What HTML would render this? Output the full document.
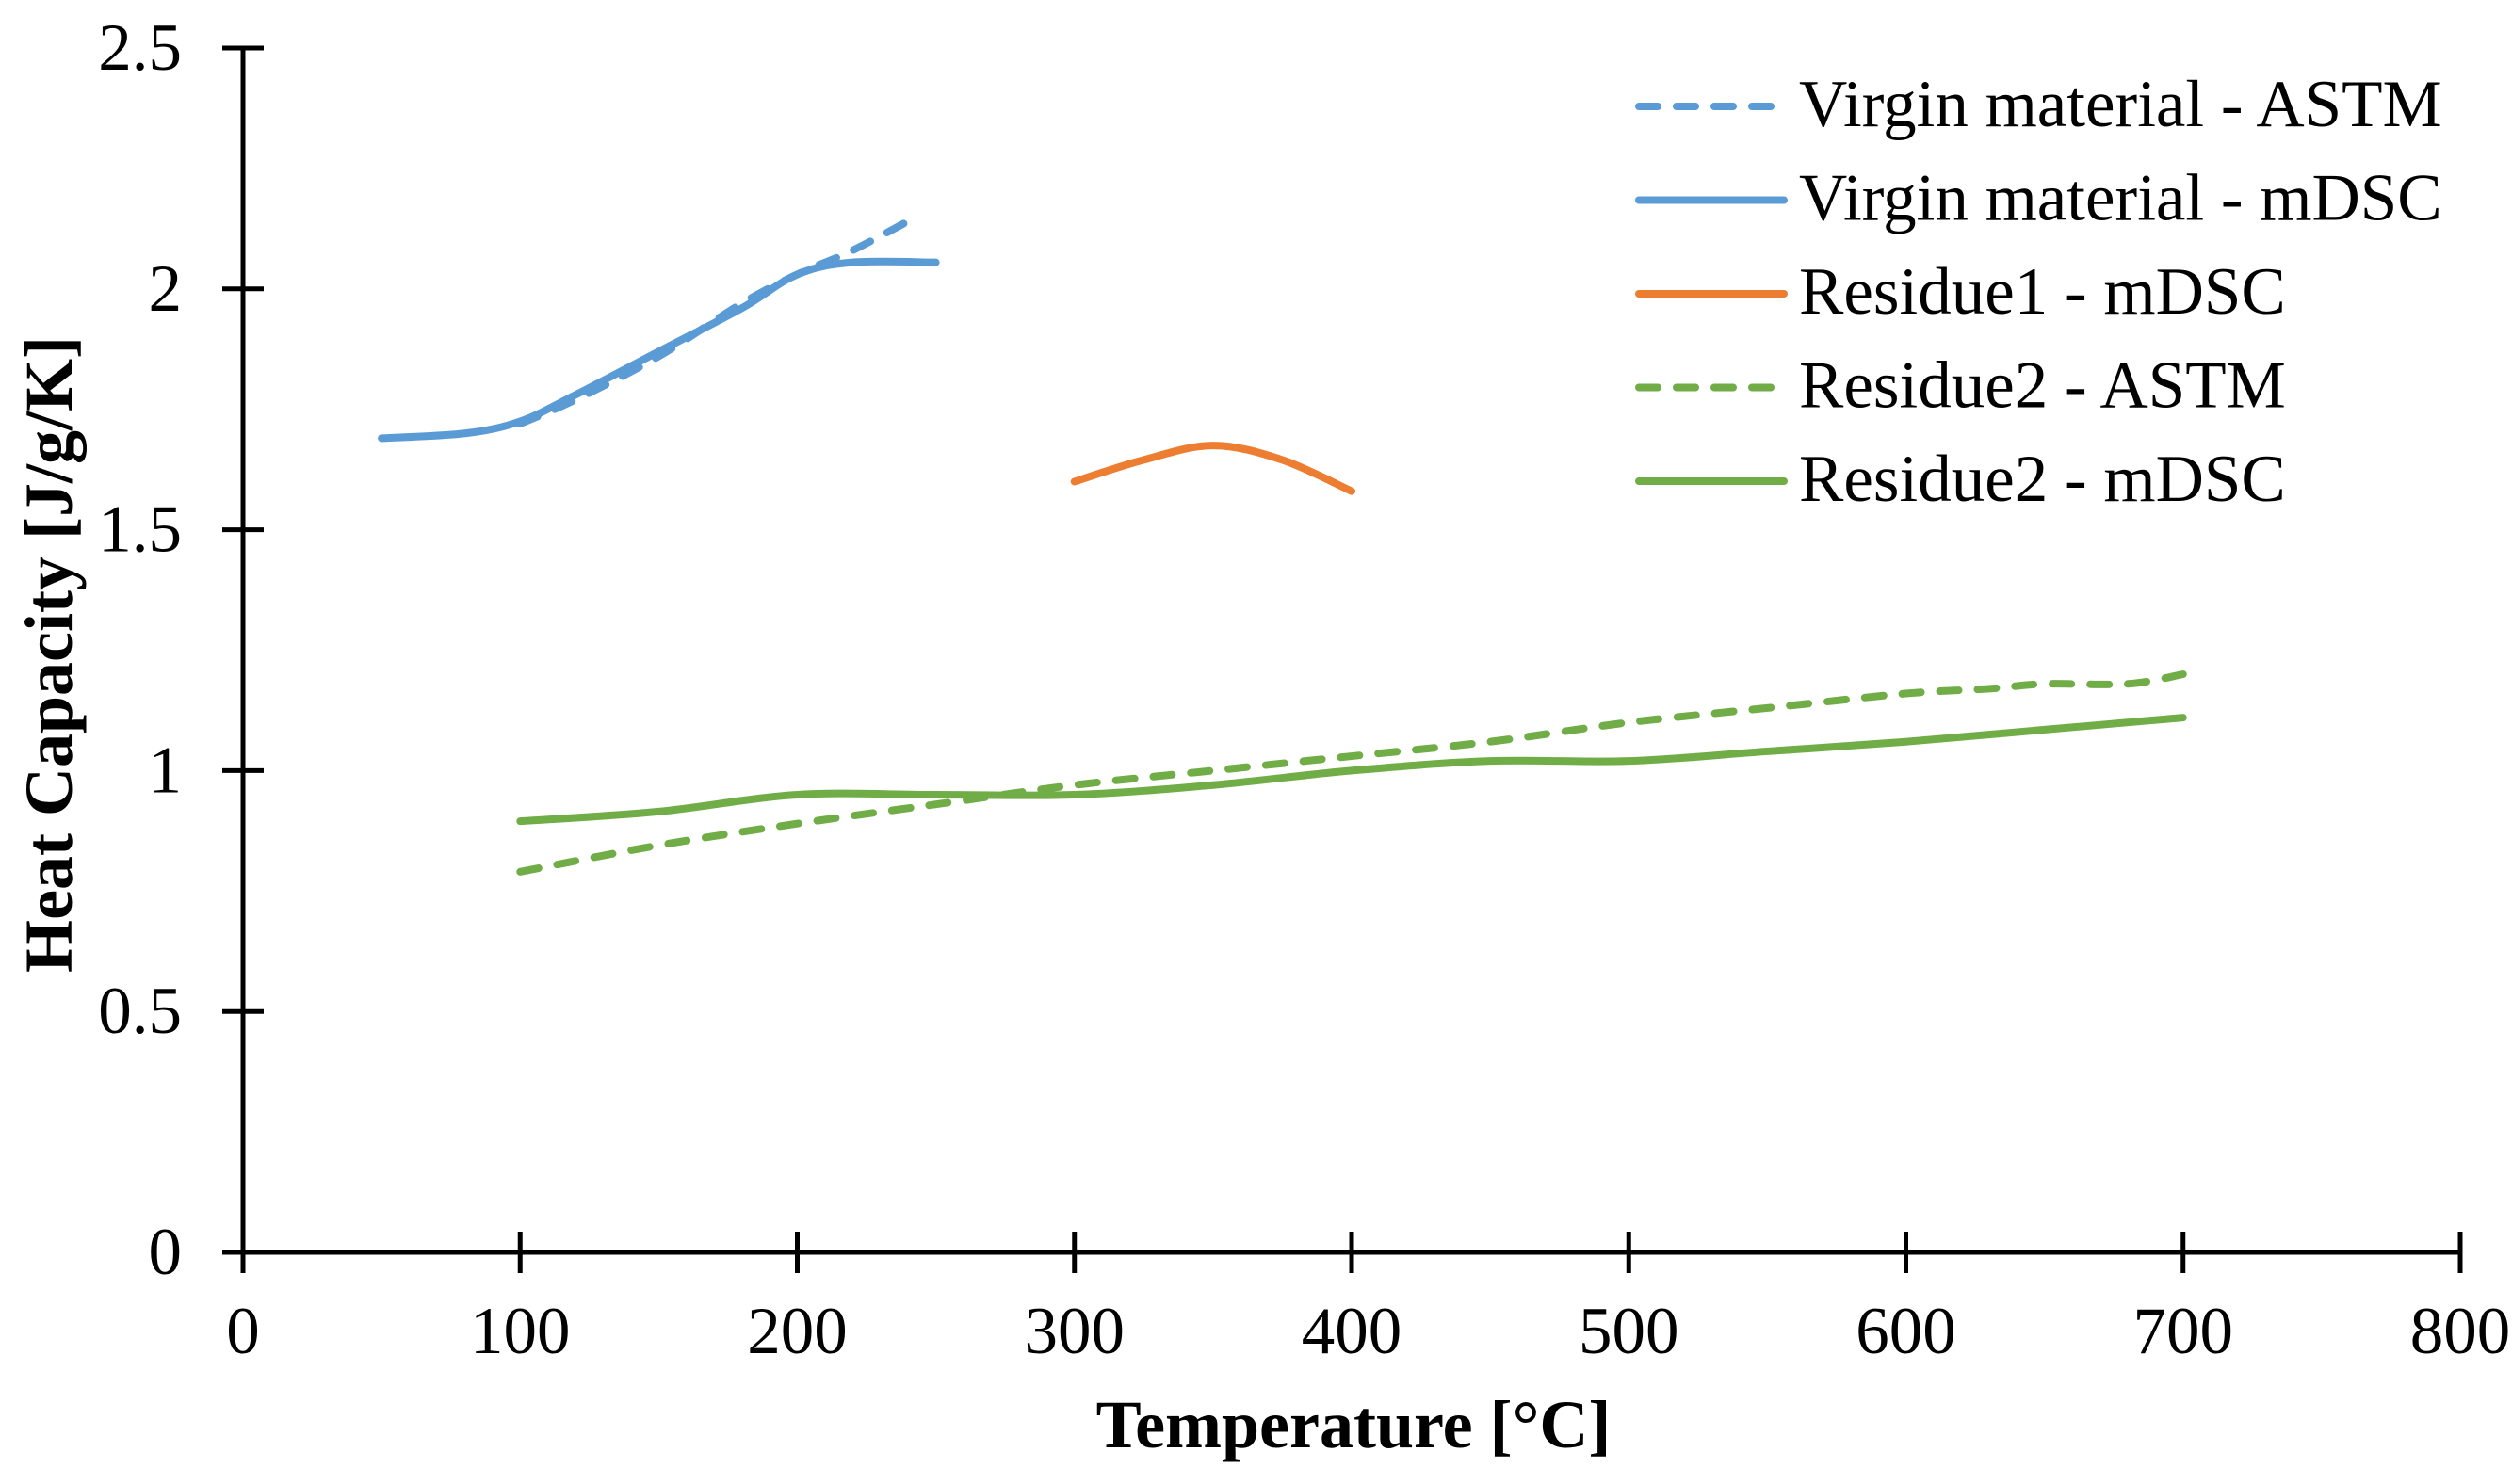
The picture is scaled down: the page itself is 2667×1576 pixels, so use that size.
<!DOCTYPE html>
<html><head><meta charset="utf-8"><style>
html,body{margin:0;padding:0;background:#fff;}
svg{display:block;font-family:"Liberation Serif",serif;}
</style></head><body>
<svg id="chart" width="2667" height="1576" viewBox="0 0 2667 1576" xmlns="http://www.w3.org/2000/svg">
<g id="axes"></g>
<g id="series"></g>
<g id="legend"></g>
<text x="1437" y="1537" font-size="72" font-weight="bold" text-anchor="middle">Temperature [°C]</text>
<text transform="translate(76,695) rotate(-90)" font-size="72" font-weight="bold" text-anchor="middle">Heat Capacity [J/g/K]</text>
</svg>
<script>
const xTicks = [0,100,200,300,400,500,600,700,800];
const yTicks = [0,0.5,1,1.5,2,2.5];
const yTickLabels = ["0","0.5","1","1.5","2","2.5"];
const virginAstmX = [100,120,150,180,200,220,243];
const virginAstmY = [1.72,1.77,1.86,1.97,2.03,2.08,2.15];
const virginMdscX = [50,80,100,120,150,180,200,220,250];
const virginMdscY = [1.69,1.70,1.725,1.78,1.87,1.96,2.03,2.055,2.055];
const res1X = [300,325,350,375,400];
const res1Y = [1.60,1.645,1.675,1.645,1.58];
const res2AstmX = [100,150,200,250,300,350,400,450,500,550,600,630,650,680,700];
const res2AstmY = [0.79,0.845,0.89,0.93,0.97,1.0,1.03,1.06,1.10,1.13,1.16,1.17,1.18,1.18,1.20];
const res2MdscX = [100,150,200,250,300,350,400,450,500,550,600,650,700];
const res2MdscY = [0.895,0.915,0.95,0.95,0.95,0.97,1.00,1.02,1.02,1.04,1.06,1.085,1.11];
const seriesNames = ["Virgin material - ASTM","Virgin material - mDSC","Residue1 - mDSC","Residue2 - ASTM","Residue2 - mDSC"];

const NS="http://www.w3.org/2000/svg";
const X0=258,X1=2612,Y0=1330,Y1=51;
const sx=v=>X0+(v-0)/(800-0)*(X1-X0);
const sy=v=>Y0-(v-0)/(2.5-0)*(Y0-Y1);
function mk(tag,attrs,parent){const e=document.createElementNS(NS,tag);for(const k in attrs)e.setAttribute(k,attrs[k]);parent.appendChild(e);return e;}
const axes=document.getElementById('axes');
let l=mk('line',{x1:X0,y1:Y0,x2:X0,y2:Y1,stroke:'#000','stroke-width':5},axes);


l=mk('line',{x1:X0-22,y1:Y0,x2:X1,y2:Y0,stroke:'#000','stroke-width':5},axes);


yTicks.forEach((v,i)=>{
  const t=mk('line',{x1:X0-22,y1:sy(v),x2:X0+22,y2:sy(v),stroke:'#000','stroke-width':5},axes);
  
  
  const tx=mk('text',{x:193,y:sy(v)+23,'font-size':71,'text-anchor':'end'},axes);
  tx.textContent=yTickLabels[i];
  
  
});
xTicks.forEach(v=>{
  const t=mk('line',{x1:sx(v),y1:Y0-22,x2:sx(v),y2:Y0+22,stroke:'#000','stroke-width':5},axes);
  
  
  const tx=mk('text',{x:sx(v),y:1437,'font-size':71,'text-anchor':'middle'},axes);
  tx.textContent=String(v);
  
  
});
const seriesG=document.getElementById('series');
const defs=[
 [virginAstmX,virginAstmY,'#5B9BD5',true,'virgin-astm-line'],
 [virginMdscX,virginMdscY,'#5B9BD5',false,'virgin-mdsc-line'],
 [res1X,res1Y,'#ED7D31',false,'residue1-mdsc-line'],
 [res2AstmX,res2AstmY,'#70AD47',true,'residue2-astm-line'],
 [res2MdscX,res2MdscY,'#70AD47',false,'residue2-mdsc-line']];
function smooth(xs,ys){
  const p=xs.map((x,i)=>[sx(x),sy(ys[i])]);
  let d='M'+p[0][0]+','+p[0][1];
  for(let i=0;i<p.length-1;i++){
    const p0=p[i-1]||p[i],p1=p[i],p2=p[i+1],p3=p[i+2]||p2;
    const c1=[p1[0]+(p2[0]-p0[0])/6,p1[1]+(p2[1]-p0[1])/6];
    const c2=[p2[0]-(p3[0]-p1[0])/6,p2[1]-(p3[1]-p1[1])/6];
    d+=' C'+c1+' '+c2+' '+p2;
  }
  return d;
}
defs.forEach(s=>{
  const a={d:smooth(s[0],s[1]),fill:'none',stroke:s[2],'stroke-width':8,'stroke-linecap':'round'};
  if(s[3])a['stroke-dasharray']='20 20';
  const p=mk('path',a,seriesG);
  
  
});
const lg=document.getElementById('legend');
defs.forEach((s,i)=>{
  const y=113+i*99.5;
  const a={x1:1740,y1:y,x2:1894,y2:y,stroke:s[2],'stroke-width':8,'stroke-linecap':'round'};
  if(s[3])a['stroke-dasharray']='20 20';
  const ln=mk('line',a,lg);
  
  
  const tx=mk('text',{x:1910,y:y+21,'font-size':71},lg);
  tx.textContent=seriesNames[i];
  
  
});
</script>
</body></html>
